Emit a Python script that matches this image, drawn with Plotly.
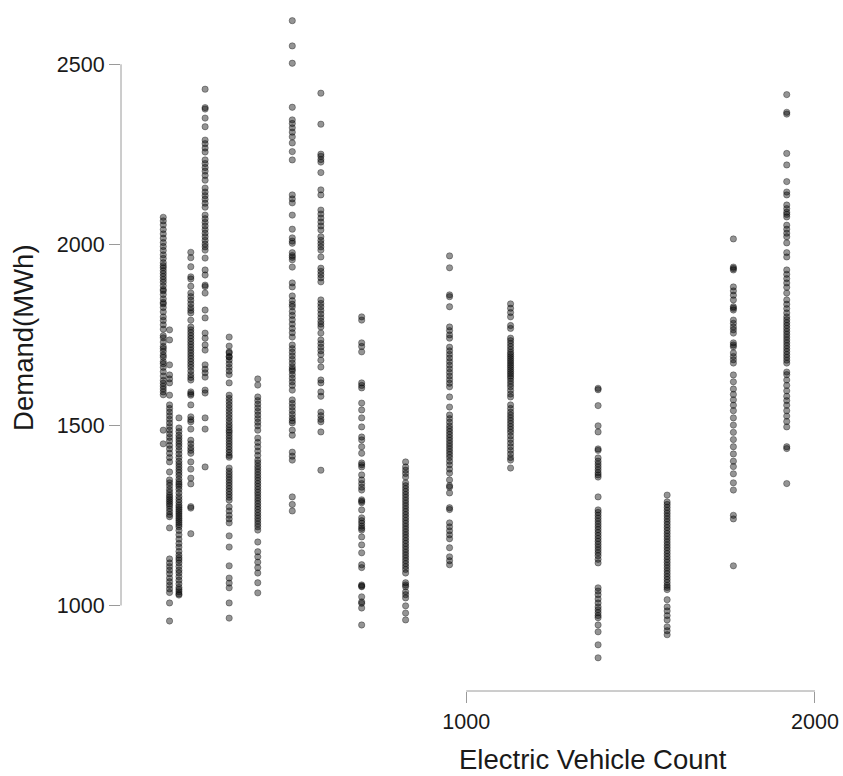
import plotly.graph_objects as go

# Electric vehicle counts (one column of observations per count)
ev_counts = [131, 149, 176, 210, 251, 320, 402, 501, 583, 700, 826, 952, 1127, 1378, 1576, 1766, 1919]

# Demand (MWh) observed at each EV count
demand_0131 = [2076, 2066, 2055, 2042, 2030, 2018, 2006, 1995, 1984, 1972, 1962, 1950, 1942, 1936, 1928,
               1920, 1912, 1904, 1896, 1886, 1876, 1872, 1862, 1850, 1840, 1836, 1826, 1814, 1800, 1790,
               1778, 1766, 1748, 1742, 1730, 1718, 1712, 1704, 1694, 1688, 1676, 1670, 1660, 1648, 1636,
               1624, 1616, 1608, 1600, 1592, 1584, 1486, 1448]
demand_0149 = [1764, 1736, 1667, 1639, 1628, 1617, 1583, 1556, 1546, 1536, 1526, 1516, 1506, 1496, 1486,
               1476, 1466, 1456, 1444, 1434, 1422, 1410, 1398, 1370, 1348, 1340, 1332, 1322, 1314, 1306,
               1300, 1294, 1288, 1282, 1276, 1268, 1260, 1252, 1246, 1215, 1129, 1118, 1108, 1098, 1088,
               1076, 1066, 1056, 1046, 1036, 1007, 957]
demand_0176 = [1520, 1492, 1482, 1472, 1464, 1456, 1448, 1440, 1430, 1420, 1410, 1400, 1392, 1384, 1376,
               1368, 1360, 1350, 1342, 1336, 1330, 1322, 1312, 1302, 1294, 1286, 1278, 1272, 1266, 1260,
               1254, 1248, 1242, 1236, 1230, 1224, 1218, 1208, 1196, 1184, 1172, 1162, 1150, 1140, 1132,
               1126, 1118, 1108, 1098, 1090, 1080, 1070, 1060, 1050, 1044, 1038, 1032, 1029]
demand_0210 = [1979, 1964, 1939, 1911, 1905, 1885, 1866, 1856, 1846, 1836, 1826, 1818, 1811, 1791, 1772,
               1764, 1756, 1748, 1740, 1732, 1724, 1716, 1708, 1700, 1692, 1684, 1676, 1668, 1660, 1650,
               1640, 1632, 1625, 1592, 1587, 1583, 1556, 1523, 1515, 1509, 1489, 1458, 1448, 1438, 1430,
               1422, 1398, 1378, 1353, 1337, 1274, 1270, 1199]
demand_0251 = [2431, 2380, 2376, 2351, 2327, 2290, 2280, 2268, 2257, 2235, 2225, 2214, 2204, 2192, 2179,
               2157, 2146, 2136, 2126, 2115, 2104, 2082, 2072, 2062, 2052, 2042, 2032, 2022, 2012, 2002,
               1994, 1985, 1963, 1930, 1916, 1888, 1884, 1866, 1819, 1797, 1755, 1741, 1722, 1708, 1667,
               1655, 1645, 1633, 1597, 1589, 1520, 1489, 1384]
demand_0320 = [1744, 1719, 1703, 1689, 1700, 1690, 1680, 1670, 1660, 1650, 1640, 1617, 1583, 1574, 1565,
               1556, 1547, 1538, 1529, 1520, 1511, 1502, 1494, 1486, 1480, 1472, 1464, 1456, 1448, 1440,
               1432, 1424, 1416, 1411, 1381, 1372, 1364, 1356, 1348, 1340, 1332, 1324, 1316, 1308, 1300,
               1292, 1273, 1262, 1250, 1240, 1229, 1193, 1162, 1110, 1076, 1062, 1049, 1007, 965]
demand_0402 = [1628, 1611, 1578, 1568, 1558, 1548, 1538, 1528, 1518, 1508, 1498, 1486, 1464, 1452, 1440,
               1428, 1416, 1403, 1395, 1386, 1378, 1370, 1362, 1354, 1346, 1338, 1330, 1322, 1314, 1306,
               1298, 1290, 1282, 1274, 1266, 1258, 1250, 1242, 1234, 1226, 1218, 1209, 1176, 1149, 1135,
               1120, 1105, 1090, 1063, 1035]
demand_0501 = [2621, 2551, 2503, 2381, 2346, 2336, 2324, 2312, 2299, 2282, 2258, 2235, 2138, 2127, 2116,
               2082, 2043, 2019, 2010, 2004, 1978, 1970, 1965, 1958, 1938, 1894, 1883, 1858, 1845, 1835,
               1828, 1815, 1804, 1792, 1780, 1768, 1756, 1744, 1722, 1712, 1702, 1692, 1682, 1672, 1662,
               1655, 1650, 1640, 1630, 1620, 1610, 1597, 1570, 1560, 1550, 1540, 1530, 1520, 1512, 1506,
               1486, 1472, 1425, 1414, 1403, 1301, 1280, 1262]
demand_0583 = [2420, 2334, 2251, 2245, 2236, 2229, 2200, 2152, 2138, 2096, 2085, 2074, 2063, 2052, 2041,
               2022, 2012, 2003, 1994, 1985, 1966, 1935, 1926, 1917, 1908, 1897, 1847, 1837, 1828, 1818,
               1808, 1798, 1788, 1780, 1772, 1755, 1736, 1726, 1716, 1706, 1696, 1680, 1661, 1625, 1617,
               1592, 1580, 1536, 1526, 1516, 1509, 1481, 1375]
demand_0700 = [1800, 1791, 1728, 1718, 1703, 1617, 1610, 1603, 1561, 1542, 1520, 1495, 1467, 1459, 1440,
               1422, 1395, 1390, 1384, 1362, 1348, 1338, 1328, 1320, 1293, 1289, 1285, 1265, 1243, 1235,
               1228, 1220, 1214, 1209, 1190, 1168, 1146, 1113, 1105, 1057, 1054, 1052, 1024, 1010, 1006,
               993, 946]
demand_0826 = [1398, 1384, 1375, 1366, 1356, 1340, 1332, 1324, 1316, 1308, 1300, 1292, 1284, 1276, 1268,
               1260, 1252, 1244, 1236, 1228, 1220, 1212, 1204, 1196, 1188, 1180, 1172, 1164, 1156, 1148,
               1140, 1132, 1124, 1116, 1108, 1100, 1090, 1063, 1057, 1052, 1038, 1030, 1021, 999, 979, 960]
demand_0952 = [1969, 1936, 1861, 1856, 1828, 1772, 1762, 1750, 1741, 1716, 1706, 1696, 1686, 1676, 1666,
               1656, 1646, 1636, 1626, 1616, 1606, 1578, 1550, 1528, 1518, 1508, 1498, 1490, 1482, 1474,
               1466, 1458, 1450, 1442, 1434, 1426, 1418, 1410, 1400, 1390, 1378, 1367, 1348, 1332, 1328,
               1312, 1271, 1266, 1229, 1218, 1207, 1196, 1185, 1160, 1135, 1124, 1113]
demand_1127 = [1836, 1824, 1812, 1800, 1776, 1768, 1741, 1734, 1726, 1718, 1710, 1702, 1696, 1690, 1684,
               1678, 1672, 1666, 1660, 1654, 1648, 1642, 1636, 1630, 1622, 1614, 1606, 1596, 1586, 1578,
               1556, 1546, 1536, 1528, 1520, 1512, 1504, 1496, 1488, 1480, 1470, 1460, 1450, 1440, 1430,
               1420, 1410, 1403, 1381]
demand_1378 = [1602, 1598, 1554, 1498, 1481, 1434, 1430, 1409, 1400, 1392, 1384, 1376, 1368, 1362, 1356,
               1301, 1265, 1258, 1250, 1242, 1234, 1226, 1218, 1210, 1202, 1194, 1186, 1178, 1170, 1162,
               1154, 1146, 1138, 1128, 1118, 1049, 1040, 1030, 1018, 1007, 996, 988, 980, 972, 966,
               946, 927, 891, 855]
demand_1576 = [1306, 1287, 1280, 1272, 1264, 1256, 1248, 1240, 1232, 1224, 1216, 1208, 1200, 1192, 1184,
               1176, 1168, 1160, 1152, 1144, 1136, 1128, 1120, 1112, 1104, 1096, 1088, 1080, 1072, 1064,
               1056, 1050, 1044, 1016, 996, 985, 972, 960, 941, 930, 919]
demand_1766 = [2016, 1938, 1934, 1930, 1883, 1872, 1860, 1847, 1828, 1824, 1819, 1791, 1782, 1772, 1764,
               1755, 1728, 1722, 1717, 1700, 1690, 1681, 1672, 1639, 1620, 1600, 1585, 1570, 1555, 1540,
               1520, 1500, 1480, 1460, 1440, 1420, 1400, 1385, 1365, 1340, 1320, 1250, 1240, 1110]
demand_1919 = [2416, 2367, 2362, 2253, 2221, 2175, 2146, 2138, 2110, 2100, 2090, 2084, 2077, 2054, 2043,
               2032, 2022, 2005, 1978, 1966, 1930, 1918, 1906, 1894, 1882, 1866, 1847, 1835, 1823, 1811,
               1800, 1792, 1784, 1776, 1768, 1760, 1752, 1744, 1736, 1728, 1720, 1712, 1704, 1696, 1688,
               1680, 1672, 1647, 1640, 1625, 1610, 1595, 1580, 1568, 1555, 1540, 1525, 1510, 1495, 1440,
               1435, 1338]

x_ticks = [1000, 2000]
y_ticks = [1000, 1500, 2000, 2500]

demand_columns = [demand_0131, demand_0149, demand_0176, demand_0210, demand_0251, demand_0320,
                  demand_0402, demand_0501, demand_0583, demand_0700, demand_0826, demand_0952,
                  demand_1127, demand_1378, demand_1576, demand_1766, demand_1919]

xs, ys = [], []
for count, values in zip(ev_counts, demand_columns):
    xs.extend([count] * len(values))
    ys.extend(values)

FONT = "Liberation Sans, Arial, Helvetica, sans-serif"
AXIS_GREY = "#9a9a9a"
POINT = "rgba(0,0,0,0.42)"

fig = go.Figure(
    go.Scatter(
        x=xs, y=ys, mode="markers",
        marker=dict(size=6.3, color=POINT, line=dict(color=POINT, width=0.8)),
        hoverinfo="x+y",
    )
)

fig.update_layout(
    width=843, height=776,
    margin=dict(l=121, r=8, t=5, b=85),
    paper_bgcolor="white", plot_bgcolor="white",
    showlegend=False,
    font=dict(family=FONT, color="#1a1a1a"),
    xaxis=dict(
        range=[9.8, 2057.4], tickvals=x_ticks, ticktext=[str(v) for v in x_ticks],
        ticks="outside", ticklen=11, tickwidth=1, tickcolor=AXIS_GREY,
        showline=False, showgrid=False, zeroline=False,
        tickfont=dict(size=21.5, family=FONT, color="#1a1a1a"),
    ),
    yaxis=dict(
        range=[763.0, 2664.4], tickvals=y_ticks, ticktext=[str(v) for v in y_ticks],
        ticks="outside", ticklen=11, tickwidth=1, tickcolor=AXIS_GREY,
        showline=False, showgrid=False, zeroline=False,
        tickfont=dict(size=21.5, family=FONT, color="#1a1a1a"),
    ),
    shapes=[
        # axis lines span only the tick range
        dict(type="line", xref="x", yref="paper", x0=x_ticks[0], x1=x_ticks[-1], y0=0, y1=0,
             line=dict(color=AXIS_GREY, width=1)),
        dict(type="line", xref="paper", yref="y", x0=0, x1=0, y0=y_ticks[0], y1=y_ticks[-1],
             line=dict(color=AXIS_GREY, width=1)),
    ],
    annotations=[
        dict(text="Electric Vehicle Count", xref="paper", yref="paper", x=0.661, y=-0.1236,
             xanchor="center", yanchor="bottom", showarrow=False, borderpad=0,
             font=dict(size=27.5, family=FONT, color="#1a1a1a")),
        dict(text="Demand(MWh)", xref="paper", yref="paper", x=-0.136, y=0.5146,
             xanchor="center", yanchor="middle", textangle=-90, showarrow=False,
             font=dict(size=27.5, family=FONT, color="#1a1a1a")),
    ],
)

fig.write_html("out.html")
